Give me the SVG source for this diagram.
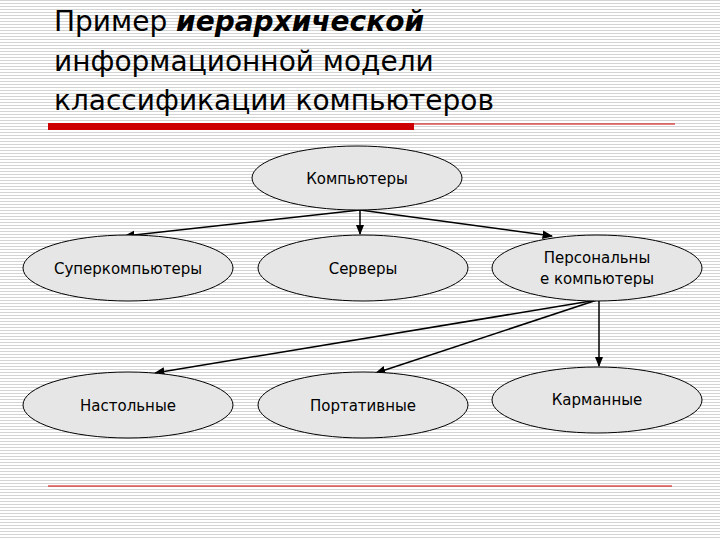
<svg xmlns="http://www.w3.org/2000/svg" width="720" height="540" viewBox="0 0 720 540">
<defs>
<pattern id="bg" width="4" height="3" patternUnits="userSpaceOnUse"><rect width="4" height="3" fill="#fff"/><rect width="4" height="1" fill="#d4d4d4"/></pattern>
<marker id="ar" viewBox="0 0 10 10" refX="9" refY="5" markerWidth="7" markerHeight="7" orient="auto"><path d="M0,1 L10,5 L0,9 z" fill="#000"/></marker>
<style>
.n{fill:#e6e6e6;stroke:#000;stroke-width:1}
.t{font-family:"DejaVu Sans",Verdana,sans-serif;font-size:15px;text-anchor:middle;fill:#000}
.c{stroke:#000;stroke-width:1.5;fill:none;marker-end:url(#ar)}
</style>
</defs>
<rect width="720" height="540" fill="url(#bg)"/>
<g font-family="DejaVu Sans,sans-serif" font-size="28" fill="#000">
<text x="54" y="31">Пример <tspan font-weight="bold" font-style="italic">иерархической</tspan></text>
<text x="54" y="71">информационной модели</text>
<text x="54" y="110">классификации компьютеров</text>
</g>
<rect x="48" y="123" width="366" height="7" fill="#cc0000"/>
<line x1="414" y1="124" x2="675" y2="124" stroke="#cc0000" stroke-width="1"/>
<line x1="48" y1="486" x2="672" y2="486" stroke="#cc0000" stroke-width="1"/>
<g id="connectors">
<line class="c" x1="360" y1="210" x2="360" y2="234"/>
<line class="c" x1="360" y1="210" x2="125" y2="236"/>
<line class="c" x1="360" y1="210" x2="552" y2="236"/>
<line class="c" x1="599" y1="300" x2="599" y2="366"/>
<line class="c" x1="597" y1="300" x2="155" y2="373"/>
<line class="c" x1="597" y1="300" x2="376" y2="373"/>
</g>
<g id="n0"><ellipse class="n" cx="357" cy="178" rx="105" ry="32"/><text class="t" x="357" y="184">Компьютеры</text></g>
<g id="n1"><ellipse class="n" cx="128" cy="268" rx="105" ry="33"/><text class="t" x="128" y="274">Суперкомпьютеры</text></g>
<g id="n2"><ellipse class="n" cx="363" cy="268" rx="105" ry="33"/><text class="t" x="363" y="274">Серверы</text></g>
<g id="n3"><ellipse class="n" cx="597" cy="268" rx="105" ry="33"/><text class="t" x="597" y="263">Персональны</text><text class="t" x="597" y="284">е компьютеры</text></g>
<g id="n4"><ellipse class="n" cx="128" cy="405" rx="105" ry="33"/><text class="t" x="128" y="411">Настольные</text></g>
<g id="n5"><ellipse class="n" cx="363" cy="405" rx="105" ry="33"/><text class="t" x="363" y="411">Портативные</text></g>
<g id="n6"><ellipse class="n" cx="597" cy="400" rx="105" ry="33"/><text class="t" x="597" y="405">Карманные</text></g>
</svg>
